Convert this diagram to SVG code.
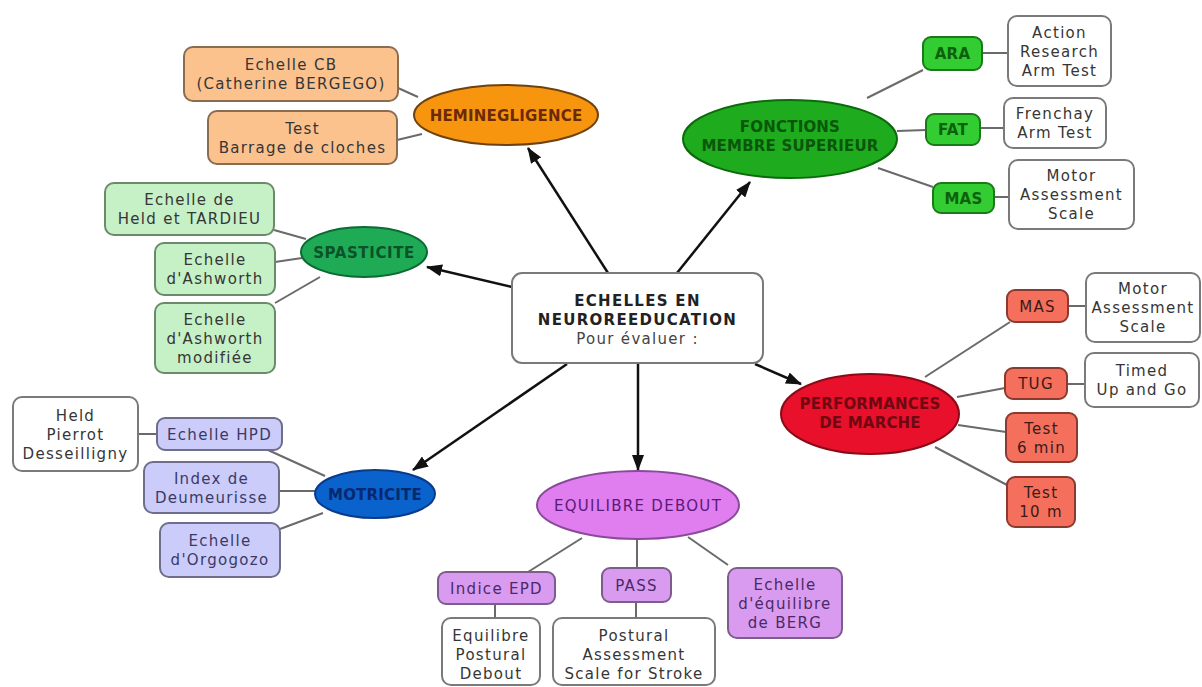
<svg xmlns="http://www.w3.org/2000/svg" width="1202" height="687" viewBox="0 0 1202 687">
<style>
text{font-family:"DejaVu Sans","Verdana",sans-serif;font-size:15px;letter-spacing:1.3px;text-anchor:middle;fill:#363636}
.box{stroke-width:2}
.w{fill:#ffffff;stroke:#7a7a7a}
.or{fill:#fbc28e;stroke:#8a6c50}
.lg{fill:#c6f0c6;stroke:#6a8a6a}
.lb{fill:#ccccfa;stroke:#6e6e8c}
.vi{fill:#d99bf0;stroke:#7e5c8c}
.gr{fill:#33cc33;stroke:#1a7a1a}
.rd{fill:#f4705c;stroke:#8a3a30}
.thin line{stroke:#6a6a6a;stroke-width:2}
.arr line{stroke:#111;stroke-width:2.5;marker-end:url(#ah)}
.center{font-weight:bold;fill:#222}
.el{font-weight:bold;letter-spacing:0.2px}
.tag{font-weight:bold;letter-spacing:0.3px}
</style>
<defs>
<marker id="ah" markerUnits="userSpaceOnUse" markerWidth="16" markerHeight="12" refX="15" refY="6" orient="auto">
<path d="M0,0 L16,6 L0,12 z" fill="#111"/>
</marker>
</defs>
<rect width="1202" height="687" fill="#ffffff"/>
<g id="connectors">
<g class="thin">
<line x1="398" y1="88" x2="418" y2="97"/>
<line x1="397" y1="140" x2="422" y2="134"/>
<line x1="867" y1="98" x2="923" y2="70"/>
<line x1="897" y1="131" x2="926" y2="130"/>
<line x1="878" y1="168" x2="933" y2="187"/>
<line x1="982" y1="53" x2="1008" y2="53"/>
<line x1="980" y1="128" x2="1004" y2="128"/>
<line x1="994" y1="197" x2="1009" y2="197"/>
<line x1="274" y1="230" x2="306" y2="239"/>
<line x1="275" y1="262" x2="302" y2="258"/>
<line x1="275" y1="303" x2="320" y2="277"/>
<line x1="268" y1="450" x2="325" y2="476"/>
<line x1="138" y1="434" x2="157" y2="434"/>
<line x1="279" y1="491" x2="315" y2="491"/>
<line x1="280" y1="529" x2="323" y2="513"/>
<line x1="582" y1="538" x2="528" y2="572"/>
<line x1="637" y1="539" x2="637" y2="568"/>
<line x1="688" y1="537" x2="728" y2="565"/>
<line x1="495" y1="604" x2="495" y2="618"/>
<line x1="636" y1="602" x2="636" y2="618"/>
<line x1="925" y1="377" x2="1010" y2="322"/>
<line x1="957" y1="397" x2="1005" y2="388"/>
<line x1="958" y1="425" x2="1006" y2="432"/>
<line x1="935" y1="447" x2="1007" y2="485"/>
<line x1="1068" y1="306" x2="1086" y2="306"/>
<line x1="1067" y1="384" x2="1085" y2="384"/>
</g>
<g class="arr">
<line x1="608" y1="273" x2="528" y2="148"/>
<line x1="677" y1="273" x2="750" y2="182"/>
<line x1="512" y1="287" x2="427" y2="267"/>
<line x1="567" y1="364" x2="413" y2="470"/>
<line x1="638" y1="363" x2="638" y2="470"/>
<line x1="755" y1="364" x2="801" y2="384"/>
</g>
</g>

<g id="center">
<rect x="512" y="273" width="251" height="90" rx="10" class="box w"/>
<text x="637.5" y="306" class="center">ECHELLES EN</text>
<text x="637.5" y="325" class="center">NEUROREEDUCATION</text>
<text x="637.5" y="344" style="fill:#444">Pour évaluer :</text>
</g>

<g id="hemineglige">
<ellipse cx="506" cy="115" rx="92" ry="30" fill="#f7950f" stroke="#6e4210" stroke-width="2"/>
<text x="506" y="120.5" class="el" style="fill:#6a2a08">HEMINEGLIGENCE</text>
</g>
<g id="echelle-cb">
<rect x="184" y="47" width="214" height="54" rx="9" class="box or"/>
<text x="291" y="70">Echelle CB</text>
<text x="291" y="89">(Catherine BERGEGO)</text>
</g>
<g id="barrage">
<rect x="208" y="111" width="189" height="53" rx="9" class="box or"/>
<text x="302.5" y="133.5">Test</text>
<text x="302.5" y="152.5">Barrage de cloches</text>
</g>

<g id="fonctions">
<ellipse cx="790" cy="139" rx="107" ry="39" fill="#1eab1e" stroke="#0c6a0c" stroke-width="2"/>
<text x="790" y="132" class="el" style="fill:#0a560a">FONCTIONS</text>
<text x="790" y="151" class="el" style="fill:#0a560a">MEMBRE SUPERIEUR</text>
</g>
<g id="ara">
<rect x="923" y="37" width="59" height="33" rx="8" class="box gr"/>
<text x="952.5" y="59" class="tag" style="fill:#0d600d">ARA</text>
</g>
<g id="ara-desc">
<rect x="1008" y="16" width="103" height="70" rx="9" class="box w"/>
<text x="1059.5" y="37.5">Action</text>
<text x="1059.5" y="56.5">Research</text>
<text x="1059.5" y="75.5">Arm Test</text>
</g>
<g id="fat">
<rect x="926" y="114" width="54" height="31" rx="8" class="box gr"/>
<text x="953" y="135" class="tag" style="fill:#0d600d">FAT</text>
</g>
<g id="fat-desc">
<rect x="1004" y="98" width="102" height="50" rx="9" class="box w"/>
<text x="1055" y="119">Frenchay</text>
<text x="1055" y="138">Arm Test</text>
</g>
<g id="mas-up">
<rect x="933" y="183" width="61" height="30" rx="8" class="box gr"/>
<text x="963.5" y="203.5" class="tag" style="fill:#0d600d">MAS</text>
</g>
<g id="mas-up-desc">
<rect x="1009" y="160" width="125" height="69" rx="9" class="box w"/>
<text x="1071.5" y="181">Motor</text>
<text x="1071.5" y="200">Assessment</text>
<text x="1071.5" y="219">Scale</text>
</g>

<g id="spasticite">
<ellipse cx="364" cy="252" rx="63" ry="25" fill="#1fab55" stroke="#0c6a34" stroke-width="2"/>
<text x="364" y="257.5" class="el" style="fill:#0a5228;letter-spacing:0.6px">SPASTICITE</text>
</g>
<g id="tardieu">
<rect x="105" y="183" width="169" height="52" rx="9" class="box lg"/>
<text x="189.5" y="205">Echelle de</text>
<text x="189.5" y="224">Held et TARDIEU</text>
</g>
<g id="ashworth">
<rect x="155" y="243" width="120" height="52" rx="9" class="box lg"/>
<text x="215" y="265">Echelle</text>
<text x="215" y="284">d'Ashworth</text>
</g>
<g id="ashworth-mod">
<rect x="155" y="303" width="120" height="70" rx="9" class="box lg"/>
<text x="215" y="324.5">Echelle</text>
<text x="215" y="343.5">d'Ashworth</text>
<text x="215" y="362.5">modifiée</text>
</g>

<g id="motricite">
<ellipse cx="375" cy="494" rx="60" ry="24" fill="#0a62cc" stroke="#0a3a8a" stroke-width="2"/>
<text x="375" y="499.5" class="el" style="fill:#06286e">MOTRICITE</text>
</g>
<g id="hpd">
<rect x="157" y="418" width="125" height="32" rx="8" class="box lb"/>
<text x="219.5" y="439.5" style="fill:#3a3a66">Echelle HPD</text>
</g>
<g id="hpd-desc">
<rect x="13" y="397" width="125" height="74" rx="9" class="box w"/>
<text x="75.5" y="420.5">Held</text>
<text x="75.5" y="439.5">Pierrot</text>
<text x="75.5" y="458.5">Desseilligny</text>
</g>
<g id="deumeurisse">
<rect x="144" y="462" width="135" height="51" rx="9" class="box lb"/>
<text x="211.5" y="483.5" style="fill:#3a3a66">Index de</text>
<text x="211.5" y="502.5" style="fill:#3a3a66">Deumeurisse</text>
</g>
<g id="orgogozo">
<rect x="160" y="523" width="120" height="54" rx="9" class="box lb"/>
<text x="220" y="546" style="fill:#3a3a66">Echelle</text>
<text x="220" y="565" style="fill:#3a3a66">d'Orgogozo</text>
</g>

<g id="equilibre">
<ellipse cx="638" cy="505" rx="101" ry="34" fill="#e07ef0" stroke="#8a4a9a" stroke-width="2"/>
<text x="638" y="510.5" style="fill:#5a1a78">EQUILIBRE DEBOUT</text>
</g>
<g id="epd">
<rect x="438" y="572" width="117" height="32" rx="8" class="box vi"/>
<text x="496.5" y="593.5" style="fill:#4a2a66">Indice EPD</text>
</g>
<g id="epd-desc">
<rect x="442" y="618" width="98" height="67" rx="9" class="box w"/>
<text x="491" y="641">Equilibre</text>
<text x="491" y="660">Postural</text>
<text x="491" y="679">Debout</text>
</g>
<g id="pass">
<rect x="602" y="568" width="69" height="34" rx="8" class="box vi"/>
<text x="636.5" y="590.5" style="fill:#4a2a66">PASS</text>
</g>
<g id="pass-desc">
<rect x="553" y="618" width="162" height="67" rx="9" class="box w"/>
<text x="634" y="641">Postural</text>
<text x="634" y="660">Assessment</text>
<text x="634" y="679">Scale for Stroke</text>
</g>
<g id="berg">
<rect x="728" y="568" width="114" height="70" rx="9" class="box vi"/>
<text x="785" y="589.5" style="fill:#4a2a66">Echelle</text>
<text x="785" y="608.5" style="fill:#4a2a66">d'équilibre</text>
<text x="785" y="627.5" style="fill:#4a2a66">de BERG</text>
</g>

<g id="performances">
<ellipse cx="870" cy="414" rx="89" ry="40" fill="#e8102a" stroke="#8a0a18" stroke-width="2"/>
<text x="870" y="409" class="el" style="fill:#6e0812">PERFORMANCES</text>
<text x="870" y="428" class="el" style="fill:#6e0812">DE MARCHE</text>
</g>
<g id="mas-walk">
<rect x="1007" y="290" width="61" height="32" rx="8" class="box rd"/>
<text x="1037.5" y="311.5" style="fill:#3a1a18">MAS</text>
</g>
<g id="mas-walk-desc">
<rect x="1086" y="273" width="114" height="69" rx="9" class="box w"/>
<text x="1143" y="294">Motor</text>
<text x="1143" y="313">Assessment</text>
<text x="1143" y="332">Scale</text>
</g>
<g id="tug">
<rect x="1005" y="368" width="62" height="31" rx="8" class="box rd"/>
<text x="1036" y="389" style="fill:#3a1a18">TUG</text>
</g>
<g id="tug-desc">
<rect x="1085" y="353" width="114" height="54" rx="9" class="box w"/>
<text x="1142" y="376">Timed</text>
<text x="1142" y="395">Up and Go</text>
</g>
<g id="test6">
<rect x="1006" y="413" width="71" height="49" rx="8" class="box rd"/>
<text x="1041.5" y="433.5" style="fill:#3a1a18">Test</text>
<text x="1041.5" y="452.5" style="fill:#3a1a18">6 min</text>
</g>
<g id="test10">
<rect x="1007" y="477" width="68" height="50" rx="8" class="box rd"/>
<text x="1041" y="498" style="fill:#3a1a18">Test</text>
<text x="1041" y="517" style="fill:#3a1a18">10 m</text>
</g>
</svg>
